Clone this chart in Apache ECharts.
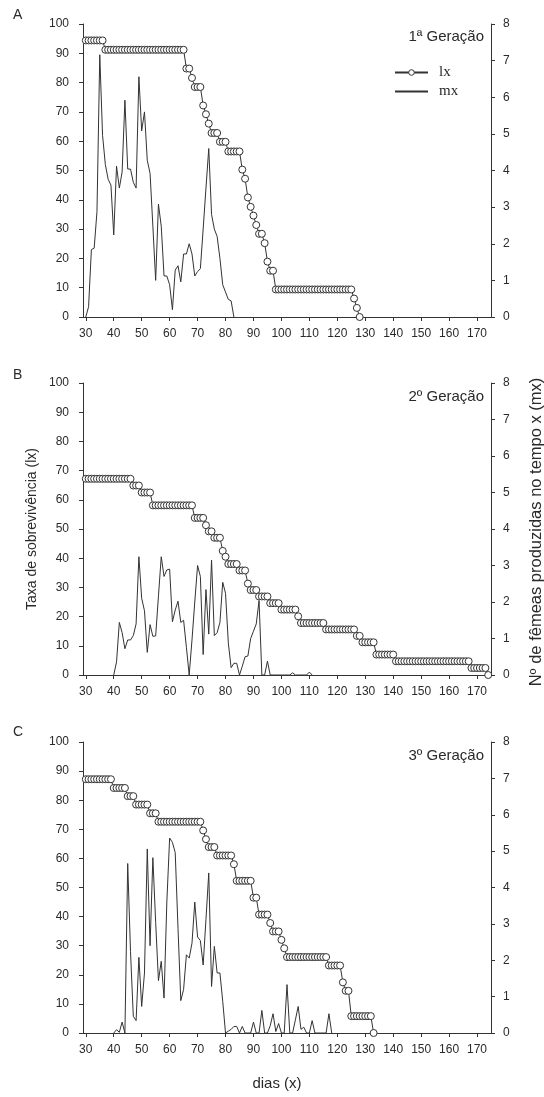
<!DOCTYPE html>
<html><head><meta charset="utf-8">
<script src="https://cdn.jsdelivr.net/npm/echarts@6/dist/echarts.min.js"></script>
<style>html,body{margin:0;padding:0;background:#fff}#c{width:544px;height:1097px}</style>
</head><body><div id="c"></div>
<script>
// ---------- DATA ----------
const dayTicks = [30,40,50,60,70,80,90,100,110,120,130,140,150,160,170];
const leftTicksMax = 100;
const rightTicksMax = 8;

// Panel A (1ª Geração): lx daily from day 30, mx daily from day 30
const lxStartA = 30;
const lxA = [
 94.4,94.4,94.4,94.4,94.4,94.4,94.4,
 91.2,91.2,91.2,91.2,91.2,91.2,91.2,91.2,91.2,91.2,
 91.2,91.2,91.2,91.2,91.2,91.2,91.2,91.2,91.2,91.2,
 91.2,91.2,91.2,91.2,91.2,91.2,91.2,91.2,91.2,
 84.8,84.8,81.6,78.5,78.5,78.5,72.2,69.2,66.0,
 62.8,62.8,62.8,59.8,59.8,59.8,56.5,56.5,56.5,56.5,56.5,
 50.3,47.2,40.8,37.6,34.6,31.4,28.4,28.4,25.2,18.9,15.8,15.8,
 9.4,9.4,9.4,9.4,9.4,9.4,9.4,9.4,9.4,9.4,
 9.4,9.4,9.4,9.4,9.4,9.4,9.4,9.4,9.4,9.4,
 9.4,9.4,9.4,9.4,9.4,9.4,9.4,9.4,
 6.3,3.1,0
];
const mxStartA = 30;
const mxA = [
 0,0.28,1.84,1.88,2.88,7.16,4.96,4.16,3.76,3.6,
 2.24,4.12,3.52,3.96,5.92,4.04,4.04,3.68,3.52,6.56,
 5.08,5.6,4.28,3.92,2.48,1.0,3.08,2.48,1.12,1.12,
 0.88,0.2,1.28,1.4,0.96,1.72,1.72,2.0,1.72,1.12,
 1.24,1.32,2.4,3.52,4.6,2.8,2.4,2.2,1.6,0.88,
 0.68,0.48,0.44,0
];

// Panel B (2º Geração)
const lxStartB = 30;
const lxB = [
 67.2,67.2,67.2,67.2,67.2,67.2,67.2,67.2,67.2,67.2,
 67.2,67.2,67.2,67.2,67.2,67.2,67.2,
 64.9,64.9,64.9,62.5,62.5,62.5,62.5,
 58.1,58.1,58.1,58.1,58.1,58.1,58.1,58.1,58.1,58.1,
 58.1,58.1,58.1,58.1,58.1,
 53.8,53.8,53.8,53.8,51.3,49.2,49.2,47.0,47.0,47.0,
 42.5,40.5,38.0,38.0,38.0,38.0,35.8,35.8,35.8,31.3,
 29.1,29.1,29.1,26.9,26.9,26.9,26.9,24.6,24.6,24.6,24.6,
 22.4,22.4,22.4,22.4,22.4,22.4,20.1,
 17.8,17.8,17.8,17.8,17.8,17.8,17.8,17.8,17.8,
 15.6,15.6,15.6,15.6,15.6,15.6,15.6,15.6,15.6,15.6,15.6,
 13.4,13.4,11.2,11.2,11.2,11.2,11.2,
 7.0,7.0,7.0,7.0,7.0,7.0,7.0,
 4.7,4.7,4.7,4.7,4.7,4.7,4.7,4.7,4.7,4.7,
 4.7,4.7,4.7,4.7,4.7,4.7,4.7,4.7,4.7,4.7,
 4.7,4.7,4.7,4.7,4.7,4.7,4.7,
 2.4,2.4,2.4,2.4,2.4,2.4,0
];
const mxStartB = 40;
const mxB = [
 0,0.36,1.44,1.16,0.72,0.96,0.96,1.08,1.4,3.24,
 2.1,1.76,0.62,1.38,1.06,1.07,2.16,3.24,2.7,2.88,
 2.9,1.46,1.78,2.02,1.44,1.5,0.76,0,0.96,2.0,
 3.0,2.7,0.56,2.34,1.12,3.15,1.08,1.16,1.44,2.54,
 2.24,0.88,0.2,0.32,0.32,0,0.24,0.5,0.52,1.0,
 1.2,1.4,2.04,0,0,0.38,0,0,0,0,
 0,0,0,0,0.06,0,0,0,0,0,
 0.08,0
];

// Panel C (3º Geração)
const lxStartC = 30;
const lxC = [
 87.2,87.2,87.2,87.2,87.2,87.2,87.2,87.2,87.2,87.2,
 84.2,84.2,84.2,84.2,84.2,81.4,81.4,81.4,
 78.5,78.5,78.5,78.5,78.5,75.5,75.5,75.5,
 72.6,72.6,72.6,72.6,72.6,72.6,72.6,72.6,72.6,72.6,
 72.6,72.6,72.6,72.6,72.6,72.6,
 69.6,66.6,63.9,63.9,63.9,61.0,61.0,61.0,61.0,61.0,61.0,58.0,
 52.3,52.3,52.3,52.3,52.3,52.3,46.5,46.5,
 40.7,40.7,40.7,40.7,37.8,34.9,34.9,34.9,32.0,29.1,
 26.1,26.1,26.1,26.1,26.1,26.1,26.1,26.1,26.1,26.1,
 26.1,26.1,26.1,26.1,26.1,
 23.2,23.2,23.2,23.2,23.2,17.4,14.5,14.5,
 5.8,5.8,5.8,5.8,5.8,5.8,5.8,5.8,0
];
const mxStartC = 40;
const mxC = [
 0,0.09,0.02,0.3,0,4.66,2.24,0.46,0.34,2.08,
 0.73,1.65,5.06,2.4,4.82,3.04,1.44,1.97,0.96,3.6,
 5.36,5.24,4.96,2.88,0.89,1.2,2.15,2.06,2.47,3.6,
 2.64,2.54,1.87,3.12,4.4,1.28,2.38,1.65,1.65,0.87,
 0,0.05,0.1,0.18,0.18,0,0.18,0,0,0,
 0.3,0,0,0.62,0,0,0.2,0.53,0.04,0.26,
 0,0,1.33,0,0,0.36,0.73,0.1,0.16,0,
 0,0.34,0,0,0,0,0,0.53,0
];

const panelLetters = ['A','B','C'];
const panelTitles = ['1ª Geração','2º Geração','3º Geração'];
const leftTitle = 'Taxa de sobrevivência (lx)';
const rightTitle = 'Nº de fêmeas produzidas no tempo x (mx)';
const xTitle = 'dias (x)';

// ---------- CHART ----------
function pairs(start, arr){ return arr.map((v,i)=>[start+i, v]); }
const FONT = '"Liberation Sans", Arial, sans-serif';
const INK = '#2a2a2a';
const LINE = '#333';

const panels = [
 {top:24, height:293, lxS:lxStartA, lx:lxA, mxS:mxStartA, mx:mxA, letterY:15, titleY:37},
 {top:383, height:292, lxS:lxStartB, lx:lxB, mxS:mxStartB, mx:mxB, letterY:375, titleY:397},
 {top:742, height:291, lxS:lxStartC, lx:lxC, mxS:mxStartC, mx:mxC, letterY:732, titleY:756}
];

const grid=[], xAxis=[], yAxis=[], series=[], graphic=[];
const axisLineStyle = {show:true, onZero:false, lineStyle:{color:LINE, width:1}};
panels.forEach((p,i)=>{
  grid.push({left:83, width:408, top:p.top, height:p.height, containLabel:false, outerBoundsMode:'none'});
  xAxis.push({type:'value', gridIndex:i, min:29, max:175,
    axisLine:axisLineStyle,
    axisTick:{show:true, length:4, customValues:dayTicks, lineStyle:{color:LINE}},
    axisLabel:{customValues:dayTicks, margin:11, fontSize:12, fontFamily:FONT, color:INK},
    splitLine:{show:false}});
  yAxis.push({type:'value', gridIndex:i, position:'left', min:0, max:leftTicksMax, interval:10,
    axisLine:axisLineStyle,
    axisTick:{show:true, length:4, lineStyle:{color:LINE}},
    axisLabel:{margin:14, fontSize:12, fontFamily:FONT, color:INK},
    splitLine:{show:false}});
  yAxis.push({type:'value', gridIndex:i, position:'right', min:0, max:rightTicksMax, interval:1,
    axisLine:axisLineStyle,
    axisTick:{show:true, length:4, lineStyle:{color:LINE}},
    axisLabel:{margin:12, fontSize:12, fontFamily:FONT, color:INK},
    splitLine:{show:false}});
  series.push({name:'mx', type:'line', xAxisIndex:i, yAxisIndex:2*i+1, data:pairs(p.mxS,p.mx),
    symbol:'none', lineStyle:{color:LINE, width:1}, itemStyle:{color:LINE}, z:2, silent:true});
  series.push({name:'lx', type:'line', xAxisIndex:i, yAxisIndex:2*i, data:pairs(p.lxS,p.lx),
    symbol:'circle', symbolSize:7, showAllSymbol:true,
    lineStyle:{color:LINE, width:1}, itemStyle:{color:'#fff', borderColor:LINE, borderWidth:1}, z:3, silent:true});
  graphic.push({type:'text', x:13, y:p.letterY, style:{text:panelLetters[i], font:'14px '+FONT, fill:INK, textAlign:'left', textVerticalAlign:'middle', align:'left', verticalAlign:'middle'}});
  graphic.push({type:'text', x:484, y:p.titleY, style:{text:panelTitles[i], font:'15px '+FONT, fill:INK, textAlign:'right', textVerticalAlign:'middle', align:'right', verticalAlign:'middle'}});
});
graphic.push({type:'text', x:32, y:529, rotation:Math.PI/2, style:{text:leftTitle, font:'14px '+FONT, fill:INK, textAlign:'center', textVerticalAlign:'middle', align:'center', verticalAlign:'middle'}});
graphic.push({type:'text', x:536, y:532, rotation:Math.PI/2, style:{text:rightTitle, font:'16.5px '+FONT, fill:INK, textAlign:'center', textVerticalAlign:'middle', align:'center', verticalAlign:'middle'}});
graphic.push({type:'text', x:277, y:1084, style:{text:xTitle, font:'15px '+FONT, fill:INK, textAlign:'center', textVerticalAlign:'middle', align:'center', verticalAlign:'middle'}});

const chart = echarts.init(document.getElementById('c'));
chart.setOption({
  animation:false,
  backgroundColor:'#fff',
  grid, xAxis, yAxis, series, graphic,
  legend:{data:[{name:'lx', itemStyle:{borderWidth:1}},{name:'mx', itemStyle:{opacity:0}}], orient:'vertical', left:389, top:60, itemWidth:33, itemHeight:7, itemGap:4,
    selectedMode:false,
    textStyle:{fontFamily:'"Liberation Serif", "Times New Roman", serif', fontSize:15, color:INK, padding:[0,0,0,6]}}
});
</script>
</body></html>
